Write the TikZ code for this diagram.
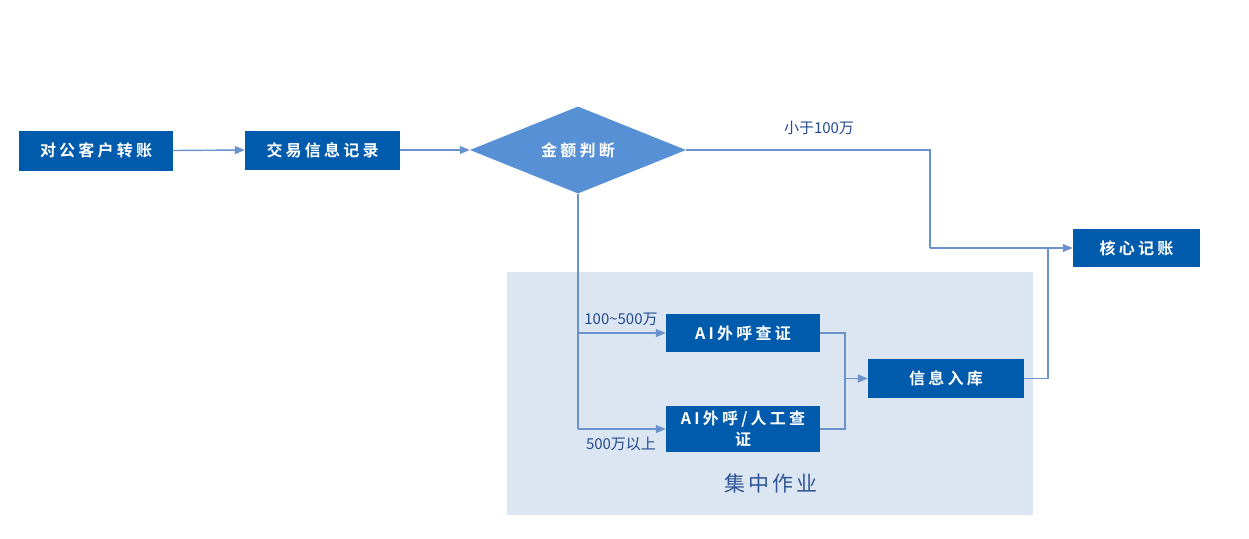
\documentclass[tikz,border=0pt]{standalone}
\usepackage{fontspec}
\usetikzlibrary{arrows.meta,shapes.geometric}
\newfontfamily\boxfont[LetterSpace=20]{Noto Sans CJK SC Bold}
\newfontfamily\lblfont{Noto Sans CJK SC}
\newfontfamily\grpfont[LetterSpace=15]{Noto Sans CJK SC}
\definecolor{boxblue}{HTML}{005BAC}
\definecolor{diablue}{HTML}{5890D6}
\definecolor{linec}{HTML}{6A93CB}
\definecolor{regionc}{HTML}{DCE6F2}
\definecolor{grptext}{HTML}{2F5597}
\definecolor{lbltext}{HTML}{244A8C}
\begin{document}
\begin{tikzpicture}[x=1pt,y=-1pt,
  stepbox/.style={fill=boxblue,text=white,inner sep=0pt,font=\boxfont\fontsize{16}{19}\selectfont,align=center},
  conn/.style={draw=linec,line width=1.4pt},
  arr/.style={conn,-{Triangle[length=10pt,width=8pt]}},
  lbl/.style={text=lbltext,font=\lblfont\fontsize{15}{17}\selectfont,inner sep=0pt}]
\useasboundingbox (0,0) rectangle (1249,538);
\fill[regionc] (507,272) rectangle (1033,515);
\node[stepbox,minimum width=154pt,minimum height=40pt] (a) at (96,150.5) {对公客户转账};
\node[stepbox,minimum width=155pt,minimum height=39pt] (b) at (322.5,150) {交易信息记录};
\node[diamond,fill=diablue,text=white,inner sep=0pt,minimum width=216pt,minimum height=87pt,aspect=2.48,font=\boxfont\fontsize{16}{19}\selectfont] (c) at (578,150) {金额判断};
\node[stepbox,minimum width=127pt,minimum height=38pt] (d) at (1136.5,248) {核心记账};
\node[stepbox,minimum width=154pt,minimum height=38pt] (e) at (743,333) {AI外呼查证};
\node[stepbox,minimum width=154pt,minimum height=46pt,text width=150pt,font=\boxfont\fontsize{16}{21}\selectfont] (f) at (743,429) {AI外呼/人工查\\证};
\node[stepbox,minimum width=156pt,minimum height=39pt] (g) at (946,378.5) {信息入库};
\node[text=grptext,font=\grpfont\fontsize{21}{25}\selectfont,inner sep=0pt] (grp) at (771,483) {集中作业};
\coordinate (c1) at (930,150);
\coordinate (c2) at (930,248);
\coordinate (br1) at (578,333);
\coordinate (br2) at (578,429);
\coordinate (j1) at (845,333);
\coordinate (j2) at (845,429);
\coordinate (j3) at (845,378.5);
\coordinate (k1) at (1048,378.5);
\coordinate (k2) at (1048,248);
\draw[arr] (a.east) -- (b.west);
\draw[arr] (b.east) -- (c.west);
\draw[conn] (c.east) -- (c1) -- (c2);
\draw[arr] (c2) -- (d.west);
\draw[conn] (c.south) -- (br2);
\draw[arr] (br1) -- (e.west);
\draw[arr] (br2) -- (f.west);
\draw[conn] (e.east) -- (j1) -- (j2) -- (f.east);
\draw[arr] (j3) -- (g.west);
\draw[conn] (g.east) -- (k1) -- (k2);
\node[lbl] (l1) at (819,128) {小于100万};
\node[lbl] (l2) at (621,319) {100\textasciitilde500万};
\node[lbl] (l3) at (621,444) {500万以上};
\end{tikzpicture}
\end{document}
